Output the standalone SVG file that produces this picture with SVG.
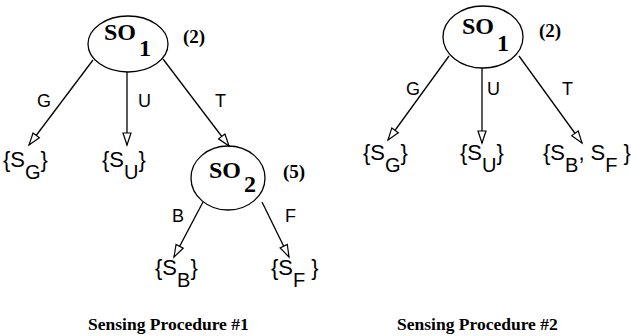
<svg xmlns="http://www.w3.org/2000/svg" width="631" height="336" viewBox="0 0 631 336">
<style>
.node{fill:none;stroke:#000;stroke-width:1.3}
.so{font-family:"Liberation Serif",serif;font-weight:bold;font-size:24px;fill:#000}
.cost{font-family:"Liberation Serif",serif;font-weight:bold;font-size:19px;fill:#000}
.lbl{font-family:"Liberation Sans",sans-serif;font-size:18px;fill:#000}
.set{font-family:"Liberation Sans",sans-serif;font-size:22px;fill:#000}
.sub{font-size:20px}
.edge{stroke:#000;stroke-width:1.3;fill:none;marker-end:url(#arr)}
.cap{font-family:"Liberation Serif",serif;font-weight:bold;font-size:17.5px;fill:#000}
</style>
<defs>
<marker id="arr" markerUnits="userSpaceOnUse" markerWidth="16" markerHeight="12" refX="13" refY="5" orient="auto" viewBox="0 0 16 10">
<path d="M1,1 L13,5 L1,9 Z" fill="#fff" stroke="#000" stroke-width="1.2"/>
</marker>
</defs>
<g id="connectors">
<line class="edge" x1="93" y1="60" x2="29" y2="145"/>
<line class="edge" x1="127" y1="72" x2="127" y2="145"/>
<line class="edge" x1="163" y1="59" x2="229" y2="146"/>
<line class="edge" x1="203" y1="202" x2="174" y2="257"/>
<line class="edge" x1="262" y1="202" x2="289" y2="257"/>
<line class="edge" x1="449" y1="56" x2="388" y2="140"/>
<line class="edge" x1="482" y1="68" x2="482" y2="143"/>
<line class="edge" x1="519" y1="56" x2="582" y2="143"/>
<text class="lbl" x="37" y="107">G</text>
<text class="lbl" x="138" y="107">U</text>
<text class="lbl" x="215" y="107">T</text>
<text class="lbl" x="172" y="222">B</text>
<text class="lbl" x="285" y="222">F</text>
<text class="lbl" x="406" y="95">G</text>
<text class="lbl" x="487" y="95">U</text>
<text class="lbl" x="562" y="95">T</text>
</g>
<g id="so1-left">
<ellipse class="node" cx="128" cy="44" rx="40" ry="28"/>
<text class="so" x="104" y="40">SO</text>
<text class="so" x="139" y="56">1</text>
<text class="cost" x="183" y="43">(2)</text>
</g>
<g id="sg-left"><text class="set" x="3" y="167">{S<tspan class="sub" dy="12">G</tspan><tspan dy="-12">}</tspan></text></g>
<g id="su-left"><text class="set" x="102" y="167">{S<tspan class="sub" dy="12">U</tspan><tspan dy="-12">}</tspan></text></g>
<g id="so2">
<ellipse class="node" cx="228" cy="178" rx="37" ry="32"/>
<text class="so" x="209" y="178">SO</text>
<text class="so" x="244" y="192">2</text>
<text class="cost" x="283" y="178">(5)</text>
</g>
<g id="sb-left"><text class="set" x="155" y="275">{S<tspan class="sub" dy="12">B</tspan><tspan dy="-12">}</tspan></text></g>
<g id="sf-left"><text class="set" x="271" y="275">{S<tspan class="sub" dy="12">F</tspan><tspan dy="-12"> }</tspan></text></g>
<g id="so1-right">
<ellipse class="node" cx="483" cy="37" rx="40" ry="31"/>
<text class="so" x="462" y="34">SO</text>
<text class="so" x="497" y="51">1</text>
<text class="cost" x="539" y="37">(2)</text>
</g>
<g id="sg-right"><text class="set" x="363" y="160">{S<tspan class="sub" dy="12">G</tspan><tspan dy="-12">}</tspan></text></g>
<g id="su-right"><text class="set" x="460" y="160">{S<tspan class="sub" dy="12">U</tspan><tspan dy="-12">}</tspan></text></g>
<g id="sbf-right"><text class="set" x="543" y="160">{S<tspan class="sub" dy="12">B</tspan><tspan dy="-12">, S</tspan><tspan class="sub" dy="12">F</tspan><tspan dy="-12"> }</tspan></text></g>
<g id="captions">
<text class="cap" x="88" y="330">Sensing Procedure #1</text>
<text class="cap" x="397" y="330">Sensing Procedure #2</text>
</g>
</svg>
